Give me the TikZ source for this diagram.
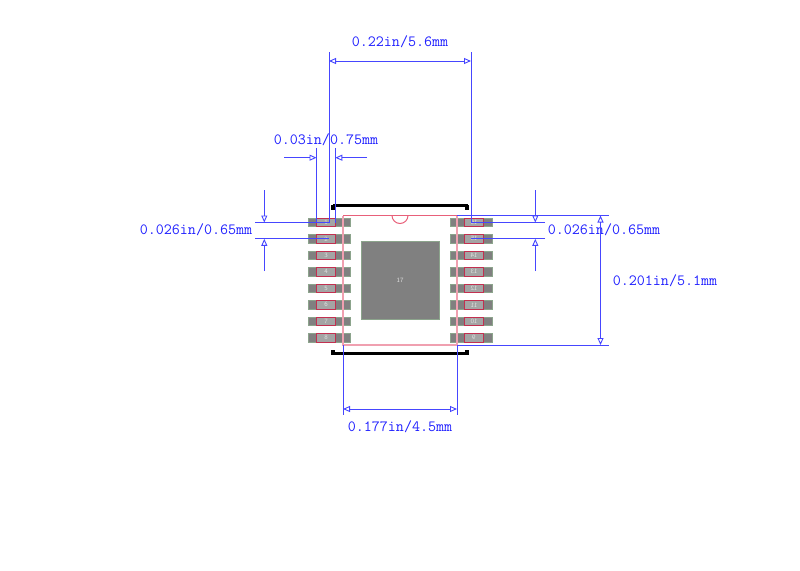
\documentclass[tikz,border=0pt]{standalone}
\usetikzlibrary{arrows.meta}
\definecolor{dimblue}{HTML}{4646FF}
\definecolor{textblue}{HTML}{2020FF}
\definecolor{padgrey}{HTML}{808080}
\definecolor{padgreen}{HTML}{8CA48C}
\definecolor{pinred}{HTML}{C23050}
\definecolor{bodyred}{HTML}{E8607A}
\definecolor{bodypink}{HTML}{F0A0B0}
\definecolor{innergrey}{HTML}{A4A4A4}
\tikzset{
  padbox/.style={fill=padgrey,draw=padgreen,line width=0.4pt},
  pinbox/.style={fill=innergrey,draw=pinred,line width=0.9pt},
  bodyline/.style={draw=bodyred,line width=1pt},
  bodyside/.style={draw=bodypink,line width=1.3pt},
  silk/.style={line width=3pt,black},
  silkdot/.style={fill=black,draw=none},
  ext/.style={draw=dimblue,line width=0.9pt},
  dimline/.style={draw=dimblue,line width=0.9pt,{Triangle[open,length=7pt,width=6pt]}-{Triangle[open,length=7pt,width=6pt]}},
  tipend/.style={draw=dimblue,line width=0.9pt,-{Triangle[open,length=7pt,width=6pt]}},
  dimtext/.style={text=textblue,inner sep=0pt,font=\fontsize{15.6}{16}\selectfont\ttfamily},
  pintext/.style={text=black!12,inner sep=0pt,font=\fontsize{6.5}{7}\selectfont\sffamily}
}
\begin{document}
\begin{tikzpicture}[x=1pt,y=-1pt]
\useasboundingbox (0,0) rectangle (800,570);
% body outline
\node[inner sep=0pt] (nw) at (343,215.5) {};
\node[inner sep=0pt] (ne) at (457,215.5) {};
\node[inner sep=0pt] (sw) at (343,345) {};
\node[inner sep=0pt] (se) at (457,345) {};
% pads
\foreach \i [evaluate=\i as \yy using {222.3+(\i-1)*16.5}] in {1,...,8}{
  \pgfmathtruncatemacro{\rp}{17-\i}
  \node[padbox,minimum width=42pt,minimum height=8.5pt,inner sep=0pt] (LP\i) at (329,\yy) {};
  \node[pinbox,minimum width=19.5pt,minimum height=8.5pt,inner sep=0pt] (LN\i) at (326,\yy) {};
  \node[pintext] at (326,\yy) {\i};
  \node[padbox,minimum width=42pt,minimum height=8.5pt,inner sep=0pt] (RP\i) at (471,\yy) {};
  \node[pinbox,minimum width=19.5pt,minimum height=8.5pt,inner sep=0pt] (RN\i) at (474,\yy) {};
  \node[pintext,xscale=-1] at (474,\yy) {\rp};
}
% exposed pad
\node[padbox,minimum width=78pt,minimum height=78pt,inner sep=0pt] (EP) at (400,280) {};
\node[pintext] at (400,280) {17};
% body
\draw[bodyside] (nw.center) -- (sw.center) -- (se.center) -- (ne.center);
\draw[bodyline] (nw.center) -- (ne.center);
\draw[bodyline] (392,215.5) arc[start angle=180,end angle=360,radius=8,y radius=-8];
% silkscreen
\draw[silk] (333,205.5) -- (468,205.5);
\fill[silkdot] (331,204.5) rectangle (335,209.5);
\fill[silkdot] (465,204.5) rectangle (469,209.5);
\draw[silk] (333,353.5) -- (468,353.5);
\fill[silkdot] (331,350) rectangle (335,355);
\fill[silkdot] (465,350) rectangle (469,355);
% dim 0.22
\coordinate (a1) at (329,52); \coordinate (a2) at (329,222.5);
\coordinate (b1) at (471,52); \coordinate (b2) at (471,222.5);
\coordinate (am) at (329,61); \coordinate (bm) at (471,61);
\draw[ext] (a1) -- (a2);
\draw[ext] (b1) -- (b2);
\draw[dimline] (am) -- (bm);
\node[dimtext] (t1) at (400,42) {0.22in/5.6mm};
% dim 0.03
\coordinate (c1) at (316.5,148); \coordinate (c2) at (316.5,222.5);
\coordinate (d1) at (335.3,148); \coordinate (d2) at (335.3,222.5);
\coordinate (c0) at (284,157.7); \coordinate (cm) at (316.5,157.7);
\coordinate (d0) at (367,157.7); \coordinate (dm) at (335.3,157.7);
\draw[ext] (c1) -- (c2);
\draw[ext] (d1) -- (d2);
\draw[tipend] (c0) -- (cm);
\draw[tipend] (d0) -- (dm);
\node[dimtext] (t2) at (326,140) {0.03in/0.75mm};
% dim left 0.026
\coordinate (e1) at (255,222.5); \coordinate (e2) at (329,222.5);
\coordinate (f1) at (255,238.8); \coordinate (f2) at (329,238.8);
\coordinate (e0) at (264.3,190); \coordinate (em) at (264.3,222.5);
\coordinate (f0) at (264.3,271); \coordinate (fm) at (264.3,238.8);
\draw[ext] (e1) -- (e2);
\draw[ext] (f1) -- (f2);
\draw[tipend] (e0) -- (em);
\draw[tipend] (f0) -- (fm);
\node[dimtext] (t3) at (196,230) {0.026in/0.65mm};
% dim right 0.026
\coordinate (g1) at (545,222.5); \coordinate (g2) at (471,222.5);
\coordinate (h1) at (545,238.8); \coordinate (h2) at (471,238.8);
\coordinate (g0) at (535.3,190); \coordinate (gm) at (535.3,222.5);
\coordinate (h0) at (535.3,271); \coordinate (hm) at (535.3,238.8);
\draw[ext] (g1) -- (g2);
\draw[ext] (h1) -- (h2);
\draw[tipend] (g0) -- (gm);
\draw[tipend] (h0) -- (hm);
\node[dimtext] (t4) at (604,230) {0.026in/0.65mm};
% dim 0.201
\coordinate (i1) at (609,215.5); \coordinate (j1) at (609,345);
\coordinate (im) at (600.5,215.5); \coordinate (jm) at (600.5,345);
\draw[ext] (ne.center) -- (i1);
\draw[ext] (se.center) -- (j1);
\draw[dimline] (im) -- (jm);
\node[dimtext] (t5) at (665,281) {0.201in/5.1mm};
% dim 0.177
\coordinate (k1) at (343,415); \coordinate (l1) at (457,415);
\coordinate (km) at (343,409); \coordinate (lm) at (457,409);
\draw[ext] (sw.center) -- (k1);
\draw[ext] (se.center) -- (l1);
\draw[dimline] (km) -- (lm);
\node[dimtext] (t6) at (400,427) {0.177in/4.5mm};
\end{tikzpicture}
\end{document}
